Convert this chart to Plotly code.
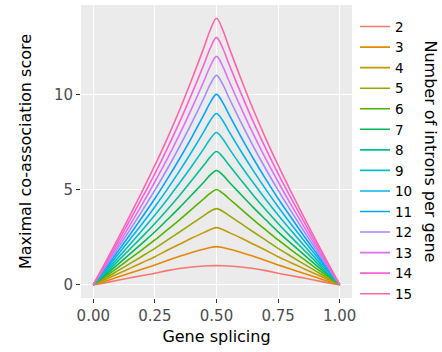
import math
import plotly.graph_objects as go

# ---- data ----
splicing = [0, 0.05, 0.10, 0.15, 0.20, 0.25, 0.30, 0.35, 0.40, 0.45, 0.475, 0.50,
            0.525, 0.55, 0.60, 0.65, 0.70, 0.75, 0.80, 0.85, 0.90, 0.95, 1.0]

introns = ["2", "3", "4", "5", "6", "7", "8", "9", "10", "11", "12", "13", "14", "15"]

score_2 = [0, 0.11, 0.23, 0.36, 0.48, 0.60, 0.74, 0.85, 0.93, 0.98, 0.995, 1,
           0.995, 0.98, 0.93, 0.85, 0.74, 0.60, 0.48, 0.36, 0.23, 0.11, 0]
score_3 = [0, 0.19, 0.40, 0.61, 0.82, 1.04, 1.27, 1.49, 1.69, 1.87, 1.95, 2,
           1.95, 1.87, 1.69, 1.49, 1.27, 1.04, 0.82, 0.61, 0.40, 0.19, 0]
score_4 = [0, 0.28, 0.57, 0.87, 1.17, 1.47, 1.81, 2.13, 2.45, 2.75, 2.90, 3,
           2.90, 2.75, 2.45, 2.13, 1.81, 1.47, 1.17, 0.87, 0.57, 0.28, 0]
score_5 = [0, 0.36, 0.74, 1.12, 1.51, 1.91, 2.34, 2.77, 3.21, 3.64, 3.86, 4,
           3.86, 3.64, 3.21, 2.77, 2.34, 1.91, 1.51, 1.12, 0.74, 0.36, 0]
score_6 = [0, 0.45, 0.90, 1.38, 1.86, 2.35, 2.88, 3.41, 3.97, 4.53, 4.81, 5,
           4.81, 4.53, 3.97, 3.41, 2.88, 2.35, 1.86, 1.38, 0.90, 0.45, 0]
score_7 = [0, 0.53, 1.07, 1.63, 2.20, 2.78, 3.41, 4.05, 4.73, 5.41, 5.77, 6,
           5.77, 5.41, 4.73, 4.05, 3.41, 2.78, 2.20, 1.63, 1.07, 0.53, 0]
score_8 = [0, 0.61, 1.24, 1.89, 2.54, 3.22, 3.94, 4.69, 5.49, 6.30, 6.72, 7,
           6.72, 6.30, 5.49, 4.69, 3.94, 3.22, 2.54, 1.89, 1.24, 0.61, 0]
score_9 = [0, 0.70, 1.41, 2.14, 2.89, 3.66, 4.48, 5.34, 6.24, 7.18, 7.67, 8,
           7.67, 7.18, 6.24, 5.34, 4.48, 3.66, 2.89, 2.14, 1.41, 0.70, 0]
score_10 = [0, 0.78, 1.58, 2.40, 3.23, 4.10, 5.01, 5.98, 7.00, 8.07, 8.63, 9,
            8.63, 8.07, 7.00, 5.98, 5.01, 4.10, 3.23, 2.40, 1.58, 0.78, 0]
score_11 = [0, 0.86, 1.75, 2.65, 3.58, 4.53, 5.55, 6.62, 7.76, 8.96, 9.58, 10,
            9.58, 8.96, 7.76, 6.62, 5.55, 4.53, 3.58, 2.65, 1.75, 0.86, 0]
score_12 = [0, 0.95, 1.92, 2.91, 3.92, 4.97, 6.08, 7.26, 8.52, 9.84, 10.54, 11,
            10.54, 9.84, 8.52, 7.26, 6.08, 4.97, 3.92, 2.91, 1.92, 0.95, 0]
score_13 = [0, 1.03, 2.08, 3.16, 4.26, 5.41, 6.61, 7.90, 9.28, 10.73, 11.49, 12,
            11.49, 10.73, 9.28, 7.90, 6.61, 5.41, 4.26, 3.16, 2.08, 1.03, 0]
score_14 = [0, 1.12, 2.25, 3.42, 4.61, 5.84, 7.15, 8.54, 10.04, 11.61, 12.44, 13,
            12.44, 11.61, 10.04, 8.54, 7.15, 5.84, 4.61, 3.42, 2.25, 1.12, 0]
score_15 = [0, 1.20, 2.42, 3.67, 4.95, 6.28, 7.68, 9.18, 10.80, 12.50, 13.40, 14,
            13.40, 12.50, 10.80, 9.18, 7.68, 6.28, 4.95, 3.67, 2.42, 1.20, 0]

x_ticks = [0, 0.25, 0.5, 0.75, 1.0]
x_tick_labels = ["0.00", "0.25", "0.50", "0.75", "1.00"]
y_ticks = [0, 5, 10]
y_tick_labels = ["0", "5", "10"]

series = [score_2, score_3, score_4, score_5, score_6, score_7, score_8,
          score_9, score_10, score_11, score_12, score_13, score_14, score_15]


# ---- ggplot2 default hue palette (HCL, c=100, l=65) ----
def hcl_hex(h, c=100.0, l=65.0):
    hr = math.radians(h)
    U = c * math.cos(hr)
    V = c * math.sin(hr)
    Xn, Yn, Zn = 95.047, 100.0, 108.883
    Y = Yn * ((l + 16) / 116) ** 3
    den = Xn + 15 * Yn + 3 * Zn
    un, vn = 4 * Xn / den, 9 * Yn / den
    u = U / (13 * l) + un
    v = V / (13 * l) + vn
    X = 9.0 * Y * u / (4 * v)
    Z = -X / 3 - 5 * Y + 3 * Y / v
    x, y, z = X / 100, Y / 100, Z / 100
    r = 3.240479 * x - 1.537150 * y - 0.498535 * z
    g = -0.969256 * x + 1.875992 * y + 0.041556 * z
    b = 0.055648 * x - 0.204043 * y + 1.057311 * z

    def gam(t):
        t = 12.92 * t if t <= 0.0031308 else 1.055 * t ** (1 / 2.4) - 0.055
        return int(round(min(max(t, 0), 1) * 255))

    return "#%02X%02X%02X" % (gam(r), gam(g), gam(b))


n = len(introns)
colors = [hcl_hex(15 + 360 * i / n) for i in range(n)]

FONT = "DejaVu Sans"

fig = go.Figure()
for name, ys, col in zip(introns, series, colors):
    fig.add_trace(go.Scatter(
        x=splicing, y=ys, mode="lines", name=name,
        line=dict(color=col, width=1.6, shape="spline", smoothing=1.0),
    ))

fig.update_layout(
    width=442, height=352,
    margin=dict(l=81, r=90, t=5, b=54, autoexpand=False),
    paper_bgcolor="white",
    plot_bgcolor="#EBEBEB",
    font=dict(family=FONT, size=15, color="black"),
    showlegend=True,
    legend=dict(
        x=1.0111, xanchor="left", y=0.9785, yanchor="top",
        font=dict(family=FONT, size=13.5, color="black"),
        bgcolor="rgba(0,0,0,0)", itemwidth=30, tracegroupgap=0,
        maxheight=340,
    ),
    annotations=[dict(
        text="Number of introns per gene", xref="paper", yref="paper",
        x=1.2915, y=0.5, xanchor="center", yanchor="middle", textangle=90,
        showarrow=False, font=dict(family=FONT, size=16, color="black"),
    )],
)

fig.update_xaxes(
    range=[-0.05, 1.05], tickmode="array", tickvals=x_ticks, ticktext=x_tick_labels,
    showgrid=True, gridcolor="white", gridwidth=1.4, zeroline=False, showline=False,
    ticks="outside", ticklen=4, tickwidth=1.1, tickcolor="#333333", automargin=False,
    tickfont=dict(family=FONT, size=15, color="#4D4D4D"),
    title=dict(text="Gene splicing", font=dict(family=FONT, size=16, color="black"), standoff=6),
)
fig.update_yaxes(
    range=[-0.7, 14.7], tickmode="array", tickvals=y_ticks, ticktext=y_tick_labels,
    showgrid=True, gridcolor="white", gridwidth=1.4, zeroline=False, showline=False,
    ticks="outside", ticklen=4, tickwidth=1.1, tickcolor="#333333", automargin=False,
    tickfont=dict(family=FONT, size=15, color="#4D4D4D"),
    title=dict(text="Maximal co-association score", font=dict(family=FONT, size=16, color="black"), standoff=18),
)

fig.write_html("out.html", config={"displayModeBar": False},
               post_script="document.body.style.margin='0px';")
